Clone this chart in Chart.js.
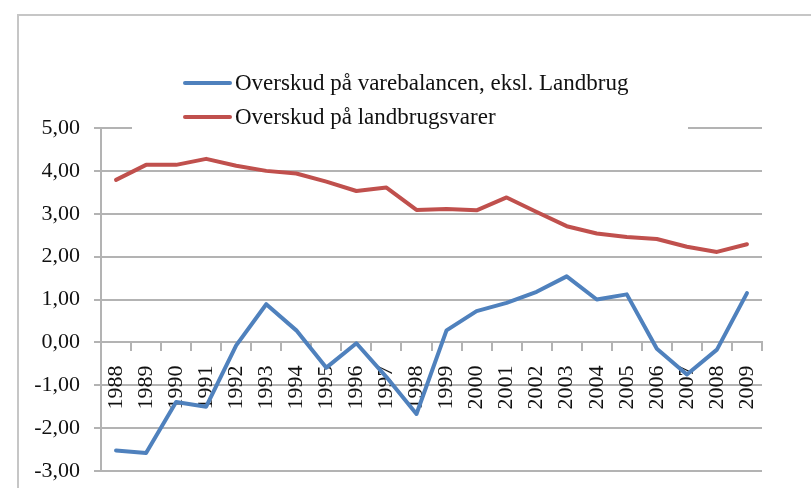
<!DOCTYPE html>
<html>
<head>
<meta charset="utf-8">
<script src="https://cdn.jsdelivr.net/npm/chart.js@4/dist/chart.umd.min.js"></script>
<style>
  html, body { margin: 0; padding: 0; background: #fff; overflow: hidden; }
  #frame { position: absolute; left: 17px; top: 14px; width: 900px; height: 600px;
           border-left: 2px solid #c6c6c6; border-top: 2px solid #c6c6c6; }
  #wrap { position: absolute; left: 0; top: 0; width: 811px; height: 488px; }
</style>
</head>
<body>
<div id="frame"></div>
<div id="wrap"><canvas id="c" width="811" height="488"></canvas></div>
<script>
const years = ['1988','1989','1990','1991','1992','1993','1994','1995','1996','1997','1998',
               '1999','2000','2001','2002','2003','2004','2005','2006','2007','2008','2009'];
const seriesNames = ['Overskud på varebalancen, eksl. Landbrug', 'Overskud på landbrugsvarer'];
const varebalance = [-2.52, -2.58, -1.39, -1.50, -0.07, 0.89, 0.28, -0.59, -0.02, -0.81, -1.67,
                     0.28, 0.73, 0.92, 1.18, 1.54, 1.00, 1.12, -0.15, -0.75, -0.17, 1.15];
const landbrug = [3.79, 4.14, 4.14, 4.28, 4.12, 4.00, 3.94, 3.75, 3.53, 3.61, 3.09,
                  3.11, 3.08, 3.38, 3.04, 2.71, 2.54, 2.46, 2.41, 2.23, 2.11, 2.29];
const yMin = -3, yMax = 5, yStep = 1;

const FONT = 'Liberation Serif';
const GRID = '#b3b3b3';
const TEXT = '#111111';

const legendPlugin = {
  id: 'customLegend',
  beforeDatasetsDraw(chart) {
    const ctx = chart.ctx;
    ctx.save();
    // legend box background (hides the top gridline behind it)
    ctx.fillStyle = '#ffffff';
    ctx.fillRect(132, 62, 556, 71);
    ctx.font = '23px "' + FONT + '"';
    ctx.textBaseline = 'middle';
    ctx.textAlign = 'left';
    chart.data.datasets.forEach((ds, i) => {
      const y = 83 + i * 34;
      ctx.strokeStyle = ds.borderColor;
      ctx.lineWidth = 4;
      ctx.lineCap = 'round';
      ctx.beginPath();
      ctx.moveTo(185, y);
      ctx.lineTo(230, y);
      ctx.stroke();
      ctx.fillStyle = TEXT;
      ctx.fillText(ds.label, 235, y + 1);
    });
    ctx.restore();
  }
};

function zeroPad(scale) {
  scale.paddingTop = 0; scale.paddingBottom = 0;
  scale.paddingLeft = 0; scale.paddingRight = 0;
}

new Chart(document.getElementById('c'), {
  type: 'line',
  data: {
    labels: years,
    datasets: [
      { label: seriesNames[0], data: varebalance, borderColor: '#4f81bd', backgroundColor: '#4f81bd',
        borderWidth: 4, pointRadius: 0, tension: 0, borderJoinStyle: 'round', borderCapStyle: 'round' },
      { label: seriesNames[1], data: landbrug, borderColor: '#c0504d', backgroundColor: '#c0504d',
        borderWidth: 4, pointRadius: 0, tension: 0, borderJoinStyle: 'round', borderCapStyle: 'round' }
    ]
  },
  options: {
    responsive: false,
    animation: false,
    devicePixelRatio: 1,
    layout: { padding: { top: 128, right: 49, bottom: 17, left: 0 } },
    plugins: { legend: { display: false }, tooltip: { enabled: false }, title: { display: false } },
    scales: {
      y: {
        min: yMin, max: yMax,
        afterFit(scale) { scale.width = 101; zeroPad(scale); },
        ticks: {
          stepSize: yStep,
          padding: 14,
          color: TEXT,
          font: { family: FONT, size: 22 },
          callback: v => v.toFixed(2).replace('.', ',')
        },
        grid: { color: GRID, lineWidth: 2, tickLength: 7, drawTicks: true },
        border: { display: true, color: GRID, width: 2 }
      },
      x: {
        position: { y: 0 },
        offset: true,
        afterFit(scale) { zeroPad(scale); },
        ticks: {
          minRotation: 90, maxRotation: 90, autoSkip: false,
          padding: 15,
          color: TEXT,
          font: { family: FONT, size: 22 }
        },
        grid: { offset: true, drawOnChartArea: false, drawTicks: true, tickLength: 8, color: GRID, lineWidth: 2 },
        border: { display: true, color: GRID, width: 2 }
      }
    }
  },
  plugins: [legendPlugin]
});
</script>
</body>
</html>
